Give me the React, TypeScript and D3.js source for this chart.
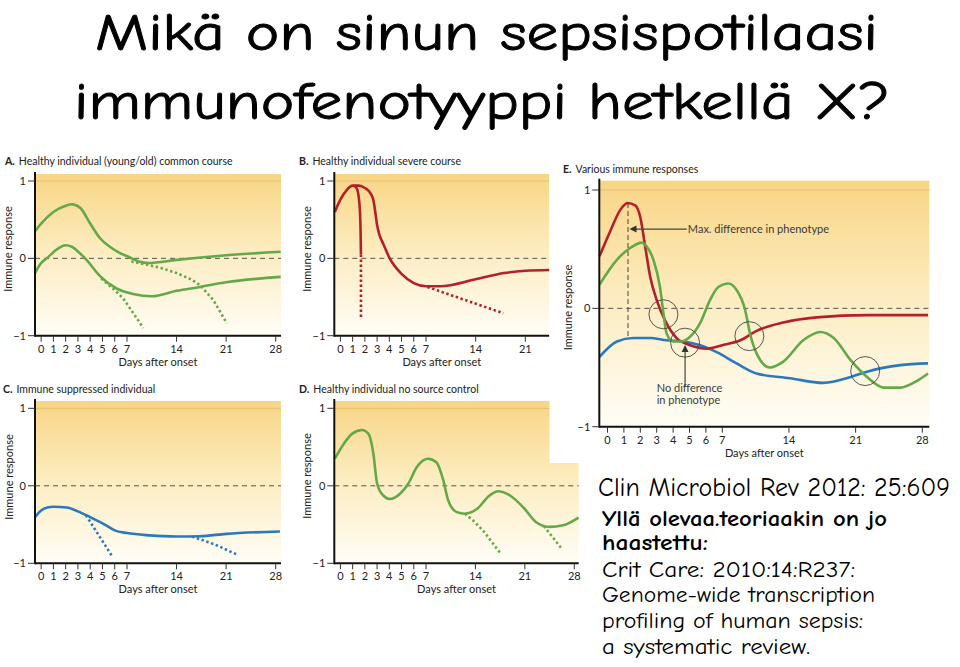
import * as d3 from "d3";

type Pt = [number, number];

// colours
const GREEN = "#64a947";
const RED = "#b3202b";
const BLUE = "#2b79bd";
const INK = "#3a3a3a";

// x ticks (days after onset)
const TICKS_28 = [0, 1, 2, 3, 4, 5, 6, 7, 14, 21, 28];
const TICKS_21 = [0, 1, 2, 3, 4, 5, 6, 7, 14, 21];
const Y_TICKS: [number, string][] = [
  [1, "1"],
  [0, "0"],
  [-1, "\u22121"],
];

// A. healthy, common course
const A_UPPER: Pt[] = [[-0.5, 0.35], [0, 0.45], [1, 0.6], [2, 0.68], [2.5, 0.7], [3.2, 0.65], [4, 0.45], [4.8, 0.26], [5.6, 0.15], [6.4, 0.07], [7.2, 0.02], [8.8, -0.045], [10, -0.06], [14, -0.02], [21, 0.04], [28.7, 0.085]];
const A_LOWER: Pt[] = [[-0.5, -0.19], [0, -0.06], [0.45, 0.0], [1, 0.08], [1.5, 0.14], [2, 0.17], [2.5, 0.15], [3, 0.09], [3.7, -0.02], [4.8, -0.23], [6.15, -0.39], [7.85, -0.46], [10.5, -0.49], [14, -0.42], [17.3, -0.37], [21, -0.31], [28.7, -0.24]];
const A_DOT1: Pt[] = [[4.9, -0.26], [6, -0.41], [6.7, -0.52], [7.9, -0.71], [9.3, -0.9]];
const A_DOT2: Pt[] = [[7.6, -0.04], [10.2, -0.09], [12, -0.13], [14, -0.19], [16, -0.27], [17.3, -0.345], [19.2, -0.54], [21.1, -0.84]];

// B. healthy, severe course
const B_MAIN: Pt[] = [[-0.46, 0.6], [0, 0.76], [0.5, 0.88], [1, 0.94], [1.5, 0.94], [2, 0.91], [2.5, 0.83], [2.7, 0.75], [2.85, 0.6], [3.0, 0.43], [3.2, 0.3], [3.5, 0.19], [4, 0.01], [5, -0.2], [6, -0.32], [7, -0.36], [9, -0.36], [14, -0.27], [18, -0.19], [21, -0.16], [24.4, -0.15]];
const B_BRANCH: Pt[] = [[1.1, 0.94], [1.35, 0.9], [1.49, 0.8], [1.6, 0.6], [1.65, 0.35], [1.68, 0.05]];
const B_BRANCH_DOT: Pt[] = [[1.68, 0.05], [1.68, -0.79]];
const B_DOT: Pt[] = [[7.2, -0.37], [17.9, -0.71]];

// C. immune suppressed
const C_MAIN: Pt[] = [[-0.5, -0.405], [0, -0.32], [0.5, -0.28], [1, -0.27], [2.1, -0.28], [3, -0.33], [4, -0.405], [5.07, -0.49], [6, -0.575], [7, -0.61], [10.2, -0.64], [14, -0.655], [17.3, -0.65], [21, -0.62], [28.6, -0.59]];
const C_DOT1: Pt[] = [[3.66, -0.38], [5.75, -0.9]];
const C_DOT2: Pt[] = [[16.2, -0.655], [19.5, -0.76], [22.6, -0.89]];

// D. healthy, no source control
const D_MAIN: Pt[] = [[-0.46, 0.35], [0.27, 0.54], [0.95, 0.67], [1.76, 0.72], [2.3, 0.67], [2.7, 0.41], [3.0, 0.03], [3.5, -0.125], [4.07, -0.17], [4.9, -0.1], [5.56, 0.03], [6.24, 0.24], [7.3, 0.35], [8.5, 0.3], [9.45, 0.07], [10.15, -0.19], [11.35, -0.34], [12.5, -0.36], [14.2, -0.3], [16, -0.125], [17.2, -0.07], [18.9, -0.125], [20.8, -0.28], [22.6, -0.47], [24.5, -0.53], [26.4, -0.51], [28.6, -0.41]];
const D_DOT1: Pt[] = [[12.5, -0.36], [13.7, -0.45], [15.1, -0.58], [17.6, -0.88]];
const D_DOT2: Pt[] = [[23.7, -0.52], [26.2, -0.81]];

// E. various immune responses
const E_RED: Pt[] = [[-0.49, 0.44], [0.16, 0.65], [0.77, 0.83], [1.22, 0.89], [1.69, 0.87], [2.0, 0.77], [2.3, 0.52], [2.6, 0.27], [3.0, 0.07], [3.5, -0.1], [4.2, -0.25], [5.0, -0.31], [6.05, -0.34], [7.1, -0.31], [8.9, -0.27], [10.6, -0.19], [13.4, -0.12], [16.9, -0.076], [22.2, -0.057], [28.6, -0.057]];
const E_GREEN: Pt[] = [[-0.49, 0.2], [0.57, 0.41], [1.38, 0.51], [2.1, 0.555], [2.4, 0.52], [2.8, 0.41], [3.2, 0.18], [3.41, -0.04], [3.6, -0.21], [4.0, -0.28], [4.5, -0.28], [5.03, -0.24], [5.64, -0.127], [6.25, 0.07], [6.76, 0.18], [7.63, 0.21], [8.5, 0.155], [9.4, -0.014], [9.9, -0.21], [10.6, -0.38], [12.0, -0.5], [13.4, -0.45], [15.5, -0.27], [17.3, -0.2], [18.7, -0.25], [20.5, -0.44], [22.2, -0.58], [24.0, -0.67], [25.7, -0.67], [27.5, -0.61], [28.6, -0.55]];
const E_BLUE: Pt[] = [[-0.49, -0.41], [0.57, -0.28], [1.58, -0.25], [2.6, -0.25], [3.6, -0.27], [4.6, -0.28], [5.6, -0.31], [6.66, -0.37], [8.5, -0.465], [10.6, -0.55], [14.1, -0.59], [17.6, -0.63], [20.5, -0.58], [22.2, -0.535], [25.7, -0.48], [28.6, -0.465]];
const E_CIRCLES: Pt[] = [[3.41, -0.05], [4.73, -0.29], [9.84, -0.235], [22.0, -0.53]];
const E_MAX_DAY = 1.25;
const E_MAX_SPAN: Pt = [0.89, -0.24];

const NOTES = [
  "Yll\u00e4 olevaa.teoriaakin on jo",
  "haastettu:",
  "Crit Care: 2010:14:R237:",
  "Genome-wide transcription",
  "profiling of human sepsis:",
  "a systematic review.",
];
const NOTE_WIDTHS = [285, 106, 253, 273, 261, 208];
const NOTE_BASELINES = [525.5, 550, 576.5, 602, 628, 654];

type Frame = {
  left: number; x7: number; x28: number; right: number;
  bgTop: number; top1: number; bottom: number;
  titleX: number; titleY: number; labelX: number; labelY: number;
};

const FRAMES: Record<string, Frame> = {
  A: { left: 35, x7: 127, x28: 275.7, right: 281, bgTop: 174, top1: 181, bottom: 335.7, titleX: 5, titleY: 164.5, labelX: 11.5, labelY: 249 },
  B: { left: 334.3, x7: 426, x28: 575, right: 549.3, bgTop: 174, top1: 181, bottom: 335.7, titleX: 299, titleY: 164.5, labelX: 311, labelY: 249 },
  C: { left: 35, x7: 127, x28: 275.7, right: 281, bgTop: 401, top1: 408.3, bottom: 563.3, titleX: 3, titleY: 393, labelX: 12.5, labelY: 477 },
  D: { left: 334.3, x7: 426, x28: 574.3, right: 578.7, bgTop: 401, top1: 408.3, bottom: 563.3, titleX: 299, titleY: 393.3, labelX: 311, labelY: 476 },
  E: { left: 599.3, x7: 722.3, x28: 922.3, right: 929.3, bgTop: 180.7, top1: 190, bottom: 426.7, titleX: 563, titleY: 172.7, labelX: 571.5, labelY: 307.5 },
};

const FONT = "Lato, 'Open Sans', sans-serif";
const HAND = "'Comic Sans MS', 'Comic Neue', 'DejaVu Sans', sans-serif";

type Series = { data: Pt[]; color: string; dotted?: boolean; straight?: boolean };

function scalesFor(f: Frame) {
  const x = d3.scaleLinear().domain([-0.5, 7, 28]).range([f.left, f.x7, f.x28]);
  const y = d3.scaleLinear().domain([-1, 1]).range([f.bottom, f.top1]);
  return { x, y };
}

function Panel({ id, title, ticks, series, children }: { id: string; title: string; ticks: number[]; series: Series[]; children?: any }) {
  const f = FRAMES[id];
  const { x, y } = scalesFor(f);
  const smooth = d3.line<Pt>().x((d) => x(d[0])).y((d) => y(d[1])).curve(d3.curveMonotoneX);
  const straight = d3.line<Pt>().x((d) => x(d[0])).y((d) => y(d[1]));
  return (
    <g fontFamily={FONT}>
      <defs>
        <linearGradient id={`bg-${id}`} x1="0" y1="0" x2="0" y2="1">
          <stop offset="0" stopColor="#f8d585" />
          <stop offset="0.45" stopColor="#fcebbd" />
          <stop offset="1" stopColor="#fffdf6" />
        </linearGradient>
      </defs>
      <rect x={f.left} y={f.bgTop} width={f.right - f.left} height={f.bottom - f.bgTop} fill={`url(#bg-${id})`} />
      <line x1={f.left} x2={f.right} y1={y(1)} y2={y(1)} stroke="#e2bf6e" strokeWidth={1} />
      <line x1={f.left} x2={f.right} y1={y(0)} y2={y(0)} stroke="#555" strokeWidth={1} strokeDasharray="5 4" />
      {series.map((s, i) => (
        <path
          key={i}
          d={(s.dotted || s.straight ? straight : smooth)(s.data) ?? ""}
          fill="none"
          stroke={s.color}
          strokeWidth={2.6}
          strokeDasharray={s.dotted ? "2.4 2.6" : undefined}
          strokeLinecap="butt"
        />
      ))}
      {children}
      {/* axes */}
      <line x1={f.left} x2={f.left} y1={f.bgTop - 2} y2={f.bottom + 1} stroke="#111" strokeWidth={2} />
      <line x1={f.left} x2={f.right} y1={f.bottom} y2={f.bottom} stroke="#111" strokeWidth={2} />
      {Y_TICKS.map(([v, t]) => (
        <g key={t}>
          <line x1={f.left - 7} x2={f.left} y1={y(v)} y2={y(v)} stroke="#333" strokeWidth={1} />
          <text x={f.left - 9} y={y(v) + 4} textAnchor="end" fontSize={11} fill="#222">{t}</text>
        </g>
      ))}
      {ticks.map((t) => (
        <g key={t}>
          <line x1={x(t)} x2={x(t)} y1={f.bottom} y2={f.bottom + 6} stroke="#333" strokeWidth={1} />
          <text x={x(t)} y={f.bottom + 17} textAnchor="middle" fontSize={11} fill="#222">{t}</text>
        </g>
      ))}
      <text x={(f.left + f.right) / 2} y={f.bottom + 30} textAnchor="middle" fontSize={11} fill="#222">Days after onset</text>
      <text transform={`translate(${f.labelX},${f.labelY}) rotate(-90)`} textAnchor="middle" fontSize={11} fill="#222">Immune response</text>
      <text x={f.titleX} y={f.titleY} fontSize={10.5} fill="#222">
        <tspan fontWeight="bold">{id}.</tspan>
        <tspan dx={4}>{title}</tspan>
      </text>
    </g>
  );
}

function EAnnotations() {
  const { x, y } = scalesFor(FRAMES.E);
  const ax = x(E_MAX_DAY) + 1.5;
  const ay = y(0.67);
  const bx = x(4.73);
  const by = y(-0.31);
  return (
    <g fontFamily={FONT}>
      {E_CIRCLES.map((c, i) => (
        <circle key={i} cx={x(c[0])} cy={y(c[1])} r={14.5} fill="none" stroke="#444" strokeWidth={0.9} />
      ))}
      <line x1={x(E_MAX_DAY)} x2={x(E_MAX_DAY)} y1={y(E_MAX_SPAN[0])} y2={y(E_MAX_SPAN[1])} stroke="#444" strokeWidth={1} strokeDasharray="5 3" />
      <line x1={ax + 6} x2={x(4.83)} y1={ay} y2={ay} stroke="#444" strokeWidth={1.2} />
      <path d={`M${ax},${ay} l7,-3.5 l0,7 z`} fill="#333" />
      <text x={x(4.9)} y={ay + 4} fontSize={11} fill={INK}>Max. difference in phenotype</text>
      <line x1={bx} x2={bx} y1={by + 6} y2={y(-0.66)} stroke="#444" strokeWidth={1.2} />
      <path d={`M${bx},${by} l-3.5,7 l7,0 z`} fill="#333" />
      <text x={x(3.0)} y={y(-0.71)} fontSize={11} fill={INK}>No difference</text>
      <text x={x(3.0)} y={y(-0.805)} fontSize={11} fill={INK}>in phenotype</text>
    </g>
  );
}

export default function App() {
  return (
    <svg width={960} height={667} style={{ position: "absolute", left: 0, top: 0, background: "#fff" }}>
      <rect width={960} height={667} fill="#fff" />
      <g fontFamily={HAND} fontSize={53} fill="#000" stroke="#000" strokeWidth={0.9}>
        <text x={95} y={50} textLength={783} lengthAdjust="spacingAndGlyphs">
          Mikä on sinun sepsispotilaasi
        </text>
        <text x={74} y={119} textLength={816} lengthAdjust="spacingAndGlyphs">
          immunofenotyyppi hetkellä X?
        </text>
      </g>

      <Panel
        id="A"
        title="Healthy individual (young/old) common course"
        ticks={TICKS_28}
        series={[
          { data: A_UPPER, color: GREEN },
          { data: A_LOWER, color: GREEN },
          { data: A_DOT1, color: GREEN, dotted: true },
          { data: A_DOT2, color: GREEN, dotted: true },
        ]}
      />
      <Panel
        id="B"
        title="Healthy individual severe course"
        ticks={TICKS_21}
        series={[
          { data: B_MAIN, color: RED },
          { data: B_BRANCH, color: RED },
          { data: B_BRANCH_DOT, color: RED, dotted: true },
          { data: B_DOT, color: RED, dotted: true },
        ]}
      />
      <Panel
        id="C"
        title="Immune suppressed individual"
        ticks={TICKS_28}
        series={[
          { data: C_MAIN, color: BLUE },
          { data: C_DOT1, color: BLUE, dotted: true },
          { data: C_DOT2, color: BLUE, dotted: true },
        ]}
      />
      <Panel
        id="D"
        title="Healthy individual no source control"
        ticks={TICKS_28}
        series={[
          { data: D_MAIN, color: GREEN },
          { data: D_DOT1, color: GREEN, dotted: true },
          { data: D_DOT2, color: GREEN, dotted: true },
        ]}
      />

      {/* panel E sits on a white card that covers the corner of D */}
      <rect x={549.5} y={150} width={411} height={313} fill="#fff" />
      <Panel
        id="E"
        title="Various immune responses"
        ticks={TICKS_28}
        series={[
          { data: E_BLUE, color: BLUE },
          { data: E_RED, color: RED },
          { data: E_GREEN, color: GREEN },
        ]}
      >
        <EAnnotations />
      </Panel>

      <text x={598} y={496} fontFamily={HAND} fontSize={26} fill="#000" textLength={352} lengthAdjust="spacingAndGlyphs">
        Clin Microbiol Rev 2012: 25:609
      </text>
      {NOTES.map((t, i) => (
        <text
          key={t}
          x={602}
          y={NOTE_BASELINES[i]}
          fontFamily={HAND}
          fontSize={22}
          fontWeight={i < 2 ? "bold" : "normal"}
          fill="#000"
          textLength={NOTE_WIDTHS[i]}
          lengthAdjust="spacingAndGlyphs"
        >
          {t}
        </text>
      ))}
    </svg>
  );
}
